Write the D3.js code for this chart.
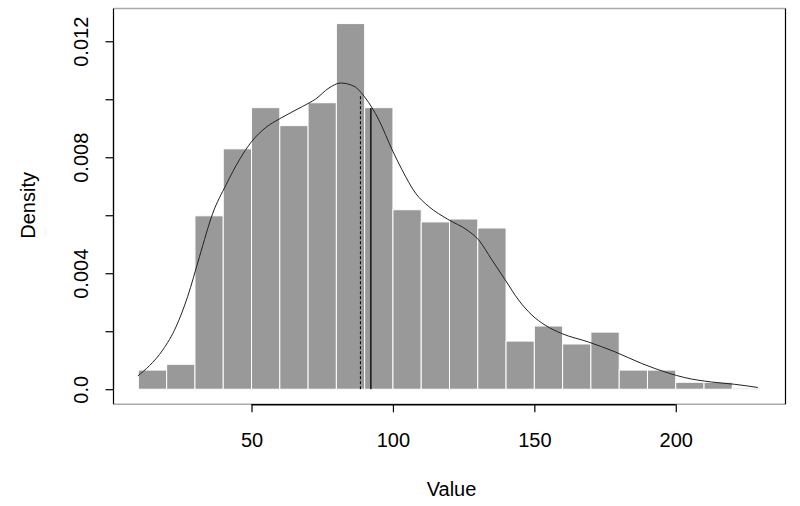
<!DOCTYPE html>
<html>
<head>
<meta charset="utf-8">
<script src="https://cdn.jsdelivr.net/npm/d3@7"></script>
<style>
  html, body { margin: 0; padding: 0; background: #fff; }
  svg { display: block; }
  text { font-family: "Liberation Sans", Arial, sans-serif; fill: #000; }
</style>
</head>
<body>
<svg id="chart" width="800" height="506"></svg>
<script>
// ---- data ----
const binStarts = [10,20,30,40,50,60,70,80,90,100,110,120,130,140,150,160,170,180,190,200,210,220];
const binWidth = 10;
const binDensity = [0.00066,0.00086,0.00598,0.00829,0.00971,0.00909,0.00988,0.01261,0.00971,0.00619,0.00577,0.00587,0.00556,0.00166,0.00218,0.00156,0.00197,0.00066,0.00066,0.00024,0.00024,0.00004];

const densX = [9.8,13.9,18.6,23.3,27.4,31.6,36.3,41.0,45.7,49.8,55.1,59.8,68.0,72.7,77.4,81.5,86.2,90.3,95.0,99.7,103.2,108.0,112.7,119.4,126.2,130.3,135.0,139.7,144.4,149.1,153.8,159.7,169.1,178.5,187.9,197.3,203.2,212.6,220.8,229.0];
const densY = [0.00046,0.00081,0.00135,0.00215,0.00319,0.00457,0.00607,0.00705,0.00791,0.00851,0.00903,0.00932,0.00975,0.01001,0.01039,0.01056,0.01045,0.01004,0.00929,0.00826,0.00757,0.00676,0.00630,0.00586,0.00549,0.00515,0.00446,0.00377,0.00308,0.00256,0.00221,0.00192,0.00163,0.00129,0.00089,0.00056,0.00040,0.00025,0.00017,0.00006];

const refValues = [88.5, 92.2];          // median (dashed), mean (solid)
const refTops = [0.01016, 0.0097];
const refDashed = [true, false];

const xTicks = [50, 100, 150, 200];
const xTickLabels = ["50", "100", "150", "200"];
const yTicks = [0, 0.002, 0.004, 0.006, 0.008, 0.010, 0.012];
const yTickLabels = ["0.0", "", "0.004", "", "0.008", "", "0.012"];

const xTitle = "Value";
const yTitle = "Density";

// ---- layout ----
const L = 113.5, R = 785.5, T = 8.5, B = 404.3;
const svg = d3.select("#chart");

const x = d3.scaleLinear().domain([1.2, 238.8]).range([L, R]);
const y = d3.scaleLinear().domain([-0.00052, 0.01313]).range([B, T]);

// bars
svg.append("g").selectAll("rect")
  .data(binStarts.map((s, i) => ({ s, d: binDensity[i] })))
  .join("rect")
  .attr("x", d => x(d.s))
  .attr("width", d => x(d.s + binWidth) - x(d.s))
  .attr("y", d => y(d.d))
  .attr("height", d => y(0) - y(d.d))
  .attr("fill", "#999999")
  .attr("stroke", "#ffffff")
  .attr("stroke-width", 1);

// density curve
const line = d3.line()
  .x(d => x(d[0]))
  .y(d => y(d[1]))
  .curve(d3.curveMonotoneX);
svg.append("path")
  .datum(densX.map((v, i) => [v, densY[i]]))
  .attr("d", line)
  .attr("fill", "none")
  .attr("stroke", "#222")
  .attr("stroke-width", 1);

// reference lines
svg.append("g").selectAll("line")
  .data(refValues.map((v, i) => ({ v, top: refTops[i], dash: refDashed[i] })))
  .join("line")
  .attr("x1", d => x(d.v)).attr("x2", d => x(d.v))
  .attr("y1", y(0)).attr("y2", d => y(d.top))
  .attr("stroke", "#000")
  .attr("stroke-width", d => d.dash ? 1 : 1.3)
  .attr("stroke-dasharray", d => d.dash ? "3,2" : null);

// box (horizontal edges look lighter in the reference)
svg.append("line").attr("x1", L).attr("x2", R).attr("y1", T).attr("y2", T)
  .attr("stroke", "#aaaaaa").attr("stroke-width", 1.6);
svg.append("line").attr("x1", L).attr("x2", R).attr("y1", B).attr("y2", B)
  .attr("stroke", "#aaaaaa").attr("stroke-width", 1.6);
svg.append("line").attr("x1", L).attr("x2", L).attr("y1", T).attr("y2", B)
  .attr("stroke", "#000").attr("stroke-width", 1.2);
svg.append("line").attr("x1", R).attr("x2", R).attr("y1", T).attr("y2", B)
  .attr("stroke", "#000").attr("stroke-width", 1.2);

// x axis
const xAxis = d3.axisBottom(x)
  .tickValues(xTicks)
  .tickSize(8)
  .tickPadding(24)
  .tickFormat((d, i) => xTickLabels[i]);
const gx = svg.append("g").attr("transform", `translate(0,${B})`).call(xAxis);
gx.select(".domain").attr("d", `M${x(xTicks[0])},0.5H${x(xTicks[xTicks.length-1])}`)
  .attr("stroke", "#000").attr("stroke-width", 1.5);
gx.selectAll(".tick line").attr("stroke", "#000").attr("stroke-width", 1.2);
gx.selectAll(".tick text")
  .attr("font-size", 20)
  .attr("font-family", "Liberation Sans, Arial, sans-serif")
  .attr("fill", "#000")
  .attr("dy", null)
  .attr("y", 447.3 - B);

// y axis
const yAxis = d3.axisLeft(y)
  .tickValues(yTicks)
  .tickSize(8)
  .tickFormat((d, i) => yTickLabels[i]);
const gy = svg.append("g").attr("transform", `translate(${L},0)`).call(yAxis);
gy.select(".domain").attr("d", `M0,${y(yTicks[0])}V${y(yTicks[yTicks.length-1])}`)
  .attr("stroke", "#000").attr("stroke-width", 1.2);
gy.selectAll(".tick line").attr("stroke", "#000").attr("stroke-width", 1.2);
gy.selectAll(".tick text")
  .attr("font-size", 20)
  .attr("font-family", "Liberation Sans, Arial, sans-serif")
  .attr("fill", "#000")
  .attr("x", null).attr("dy", null)
  .attr("text-anchor", "middle")
  .attr("transform", `translate(${88.3 - L},0) rotate(-90)`);

// titles
svg.append("text")
  .attr("x", (L + R) / 2 + 2)
  .attr("y", 495.7)
  .attr("text-anchor", "middle")
  .attr("font-size", 20)
  .text(xTitle);

svg.append("text")
  .attr("transform", `translate(35,${(T + B) / 2 - 1}) rotate(-90)`)
  .attr("text-anchor", "middle")
  .attr("font-size", 20)
  .text(yTitle);
</script>
</body>
</html>
